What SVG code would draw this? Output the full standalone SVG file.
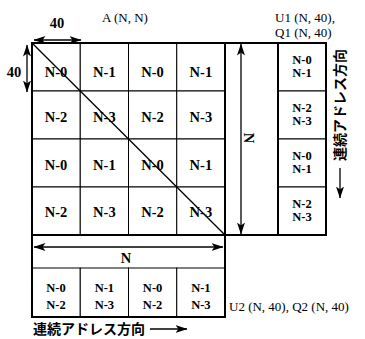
<svg xmlns="http://www.w3.org/2000/svg" width="365" height="339" viewBox="0 0 365 339">
<defs>
<marker id="ah" viewBox="0 0 12 8" refX="11.5" refY="4" markerWidth="12" markerHeight="8" markerUnits="userSpaceOnUse" orient="auto-start-reverse">
<path d="M0,0 L12,4 L0,8 L3,4 Z" fill="#000"/>
</marker>
</defs>
<style>
.cell{fill:#fff;stroke:#000;stroke-width:1}
.frame{fill:none;stroke:#000;stroke-width:2}
.t{font-family:"Liberation Serif",serif;font-weight:bold;font-size:14.5px;text-anchor:middle;dominant-baseline:central}
.s{font-size:12.5px}
.lbl{font-family:"Liberation Serif",serif;font-size:13px;dominant-baseline:central}
.jp{font-family:"Liberation Sans","Noto Sans CJK JP",sans-serif;font-weight:bold;font-size:14px;dominant-baseline:central}
.ln{stroke:#000;stroke-width:1.3;fill:none}
.ar{stroke:#000;stroke-width:1.3;fill:none;marker-end:url(#ah)}
.ar2{stroke:#000;stroke-width:1.3;fill:none;marker-start:url(#ah);marker-end:url(#ah)}
</style>
<rect width="365" height="339" fill="#fff"/>

<g id="matrixA">
<rect class="cell" x="32" y="43" width="48.25" height="48"/>
<rect class="cell" x="80.25" y="43" width="48.25" height="48"/>
<rect class="cell" x="128.5" y="43" width="48.25" height="48"/>
<rect class="cell" x="176.75" y="43" width="48.25" height="48"/>
<rect class="cell" x="32" y="91" width="48.25" height="48"/>
<rect class="cell" x="80.25" y="91" width="48.25" height="48"/>
<rect class="cell" x="128.5" y="91" width="48.25" height="48"/>
<rect class="cell" x="176.75" y="91" width="48.25" height="48"/>
<rect class="cell" x="32" y="139" width="48.25" height="48"/>
<rect class="cell" x="80.25" y="139" width="48.25" height="48"/>
<rect class="cell" x="128.5" y="139" width="48.25" height="48"/>
<rect class="cell" x="176.75" y="139" width="48.25" height="48"/>
<rect class="cell" x="32" y="187" width="48.25" height="48"/>
<rect class="cell" x="80.25" y="187" width="48.25" height="48"/>
<rect class="cell" x="128.5" y="187" width="48.25" height="48"/>
<rect class="cell" x="176.75" y="187" width="48.25" height="48"/>
<text class="t" x="56" y="72">N-0</text>
<text class="t" x="104.4" y="72">N-1</text>
<text class="t" x="152.6" y="72">N-0</text>
<text class="t" x="200.9" y="72">N-1</text>
<text class="t" x="56" y="117">N-2</text>
<text class="t" x="104.4" y="117">N-3</text>
<text class="t" x="152.6" y="117">N-2</text>
<text class="t" x="200.9" y="117">N-3</text>
<text class="t" x="56" y="165">N-0</text>
<text class="t" x="104.4" y="165">N-1</text>
<text class="t" x="152.6" y="165">N-0</text>
<text class="t" x="200.9" y="165">N-1</text>
<text class="t" x="56" y="212">N-2</text>
<text class="t" x="104.4" y="212">N-3</text>
<text class="t" x="152.6" y="212">N-2</text>
<text class="t" x="200.9" y="212">N-3</text>
<text class="lbl" x="125" y="17" text-anchor="middle">A (N, N)</text>
</g>

<g id="U1">
<rect class="cell" x="278" y="43" width="48" height="48"/>
<rect class="cell" x="278" y="91" width="48" height="48"/>
<rect class="cell" x="278" y="139" width="48" height="48"/>
<rect class="cell" x="278" y="187" width="48" height="48"/>
<text class="t s" x="302" y="60">N-0</text>
<text class="t s" x="302" y="73">N-1</text>
<text class="t s" x="302" y="108">N-2</text>
<text class="t s" x="302" y="121">N-3</text>
<text class="t s" x="302" y="156">N-0</text>
<text class="t s" x="302" y="169">N-1</text>
<text class="t s" x="302" y="204">N-2</text>
<text class="t s" x="302" y="217">N-3</text>
<text class="lbl" x="275" y="17">U1 (N, 40),</text>
<text class="lbl" x="275" y="32">Q1 (N, 40)</text>
</g>

<g id="U2">
<rect class="cell" x="32" y="268" width="48.25" height="49"/>
<rect class="cell" x="80.25" y="268" width="48.25" height="49"/>
<rect class="cell" x="128.5" y="268" width="48.25" height="49"/>
<rect class="cell" x="176.75" y="268" width="48.25" height="49"/>
<text class="t s" x="56" y="288">N-0</text>
<text class="t s" x="56" y="305">N-2</text>
<text class="t s" x="104.4" y="288">N-1</text>
<text class="t s" x="104.4" y="305">N-3</text>
<text class="t s" x="152.6" y="288">N-0</text>
<text class="t s" x="152.6" y="305">N-2</text>
<text class="t s" x="200.9" y="288">N-1</text>
<text class="t s" x="200.9" y="305">N-3</text>
<text class="lbl" x="229" y="306">U2 (N, 40), Q2 (N, 40)</text>
</g>

<g id="frame">
<path class="frame" d="M32,43 H326 V235 H225 V317 H32 Z"/>
<path class="frame" d="M225,43 V235 M278,43 V235 M32,235 H225"/>
</g>

<g id="connectors">
<line class="ln" x1="32" y1="43" x2="225" y2="235"/>
<line class="ar2" x1="34" y1="40" x2="81" y2="40"/>
<line class="ar2" x1="27" y1="45" x2="27" y2="92"/>
<line class="ar2" x1="241" y1="44" x2="241" y2="234"/>
<line class="ar2" x1="34" y1="247" x2="223" y2="247"/>
<line class="ar" x1="340" y1="168" x2="340" y2="198"/>
<line class="ar" x1="150" y1="329" x2="187" y2="329"/>
</g>

<g id="labels">
<text class="t" x="57" y="23">40</text>
<text class="t" x="14" y="72">40</text>
<text class="t" x="126" y="258">N</text>
<text class="t" transform="translate(249,138) rotate(90)">N</text>
<text class="jp" transform="translate(340,161) rotate(-90)">連続アドレス方向</text>
<text class="jp" x="33" y="329">連続アドレス方向</text>
</g>
</svg>
